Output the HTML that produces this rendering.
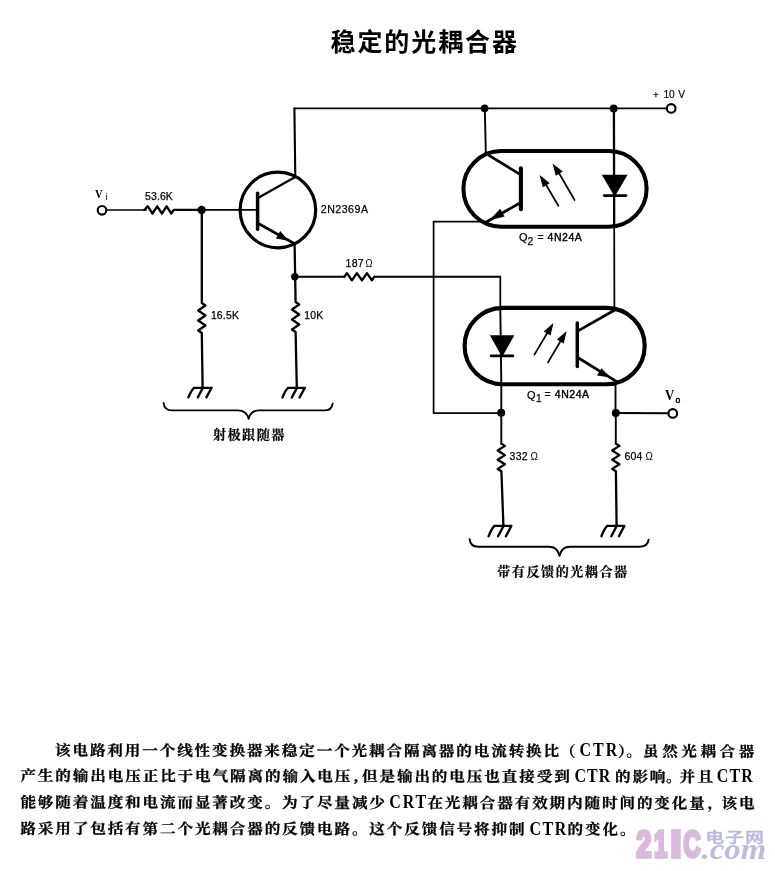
<!DOCTYPE html>
<html lang="zh-CN">
<head>
<meta charset="utf-8">
<title>稳定的光耦合器</title>
<style>
html,body{margin:0;padding:0;background:#fff;}
body{width:775px;height:871px;overflow:hidden;position:relative;font-family:"Liberation Sans","Noto Sans CJK SC",sans-serif;color:#000;}
svg{position:absolute;left:0;top:0;display:block;will-change:transform;}
.w{fill:none;stroke:#000;stroke-width:2.3;stroke-linecap:round;stroke-linejoin:round;}
.m{fill:none;stroke:#000;stroke-width:1.9;stroke-linecap:round;stroke-linejoin:round;}
.t{fill:none;stroke:#000;stroke-width:1.75;stroke-linecap:round;stroke-linejoin:round;}
.k{fill:none;stroke:#000;stroke-width:3.2;stroke-linecap:round;stroke-linejoin:round;}
.c{fill:none;stroke:#000;stroke-width:3.9;}
.e{fill:none;stroke:#000;stroke-width:2.7;stroke-linecap:round;stroke-linejoin:round;}
.d{fill:#000;stroke:none;}
.o{fill:#fff;stroke:#000;stroke-width:2.1;}
.lab{font-family:"Liberation Sans",sans-serif;font-size:11px;fill:#000;stroke:#000;stroke-width:0.25;letter-spacing:0.2px;}
.om{font-family:"Liberation Sans",sans-serif;font-size:10.5px;fill:#000;}
.vs{font-family:"Liberation Serif",serif;font-weight:700;fill:#000;}
.cn{font-family:"Liberation Serif","Noto Serif CJK SC",serif;font-weight:700;font-size:13.1px;fill:#000;stroke:#000;stroke-width:0.22;}
.title{font-family:"Liberation Sans","Noto Sans CJK SC",sans-serif;font-weight:700;font-size:25px;fill:#000;}
.p{font-family:"Liberation Serif","Noto Serif CJK SC",serif;font-weight:700;font-size:15.6px;fill:#000;stroke:#000;stroke-width:0.3;}
.pl{font-family:"Liberation Serif",serif;font-weight:700;font-size:17px;fill:#000;}
</style>
</head>
<body>
<svg width="775" height="871" viewBox="0 0 775 871">
<!-- title -->
<text class="title" x="330.5" y="51.4" textLength="186.5" lengthAdjust="spacing">稳定的光耦合器</text>

<!-- ===== emitter follower ===== -->
<path class="t" style="stroke-width:1.7" d="M106,210 H146"/>
<path class="w" d="M144.4,209.9 l3.4,-3.6 l4.7,7.2 l4.7,-7.2 l4.7,7.2 l4.7,-7.2 l4.7,7.2 l2.4,-3.6 H201"/>
<path class="t" style="stroke-width:1.6" d="M201,209.9 H257"/>
<circle class="o" cx="102" cy="210.3" r="4.3"/>
<circle class="d" cx="201.6" cy="210" r="4.2"/>
<path class="w" d="M201.8,210.2 V303 l3.6,2.5 l-7.2,5 l7.2,5 l-7.2,5 l7.2,5 l-7.2,5 l3.6,2.5 L202.6,387.6"/>
<path class="w" d="M294.6,244 L295.6,302 l3.6,2.5 l-7.2,5 l7.2,5 l-7.2,5 l7.2,5 l-7.2,5 l3.6,2.5 L296.8,387.6"/>
<circle class="d" cx="294.8" cy="276.7" r="3.7"/>
<!-- transistor -->
<circle cx="277.9" cy="210" r="37.8" fill="none" stroke="#000" stroke-width="3.2"/>
<path class="k" style="stroke-width:3.5" d="M257.6,193.3 V229.3"/>
<path class="w" style="stroke-width:2.2" d="M258.8,197.5 L295.2,177"/>
<path class="w" style="stroke-width:2.1" d="M295.3,177 L294.4,108.4"/>
<path class="t" style="stroke-width:1.65" d="M294.4,108.4 H667"/>
<path class="e" d="M258.8,223.8 L294.6,243.8"/>
<path class="d" d="M288.5,240.8 L276,238.6 L280.2,231 Z"/>
<!-- grounds -->
<path class="w" d="M193.8,387.8 H211.8 M194.2,388 q-2.5,1.5 -5.8,9.4 M202.8,388 l-5,9.4 M211.4,388 l-5,9.4"/>
<path class="w" d="M287.8,387.9 H305 M288.2,388.1 q-2.5,1.5 -5.8,9.4 M296.8,388.1 l-5,9.4 M304.6,388.1 l-5,9.4"/>
<!-- 187 ohm -->
<path class="m" d="M295,276.7 H344.6"/>
<path class="w" d="M344.4,276.7 l2.5,-3.6 l5,7.2 l5,-7.2 l5,7.2 l5,-7.2 l5,7.2 l2.5,-3.6"/>
<path class="m" d="M374.4,276.7 H500.3"/>
<path class="t" d="M500.3,276.7 V308"/>
<!-- brace -->
<path class="m" d="M163.6,403 q0.8,7.4 8.5,7.4 H238 q8.5,0 10.6,8.4 q2.1,-8.4 10.6,-8.4 H324 q7.8,0 8.6,-6.6"/>

<!-- ===== top rail ===== -->
<circle class="d" cx="484.6" cy="108.4" r="3.8"/>
<circle class="d" cx="613.7" cy="108.4" r="3.9"/>
<circle class="o" cx="671.2" cy="108.4" r="4.3"/>
<path class="m" d="M484.8,108 L485.8,152"/>
<path class="w" d="M613.9,108 L614.2,227"/>
<path class="t" d="M614.2,227 L614.4,308"/>

<!-- ===== Q2 ===== -->
<rect class="c" style="stroke-width:4.05" x="463.4" y="151" width="183.2" height="75.7" rx="37.85" ry="37.85"/>
<path class="k" style="stroke-width:4.1" d="M520.9,168.3 V209.3"/>
<path class="e" d="M485.6,153.3 L520,174.3 M520,203 L487.2,221.5"/>
<path class="d" d="M489.4,220.2 L504.6,216.4 L500.2,208.8 Z"/>
<path class="t" d="M558.4,205.8 L542,178 M574.6,200 L556,168"/>
<path class="d" d="M539.6,175 L549.8,183.2 L542.8,187.3 Z M552.6,163.4 L562.8,171.6 L555.8,175.7 Z"/>
<path class="d" d="M601.8,174.8 H627.6 L616,194.6 H613.4 Z"/>
<path class="w" style="stroke-width:2.6" d="M604.2,195.6 H626"/>
<!-- feedback wire -->
<path class="t" d="M487,221.7 H433.6 V413 H501"/>

<!-- ===== Q1 ===== -->
<rect class="c" style="stroke-width:4.15" x="464.6" y="307.9" width="180.1" height="76.3" rx="38.15" ry="38.15"/>
<path class="m" d="M500.3,308 L501.3,384"/>
<path class="m" d="M501.3,384 V412.7"/>
<path class="d" d="M489.8,335.2 H514.4 L503.4,354.8 H500.8 Z"/>
<path class="w" style="stroke-width:2.7" d="M491,355.8 H513"/>
<path class="t" d="M534.4,354.6 L551.5,326 M548,362.4 L564.8,334"/>
<path class="d" d="M553.4,323 L550.6,335.6 L543.8,331.5 Z M566.6,331 L563.8,343.6 L557,339.5 Z"/>
<path class="k" style="stroke-width:3.5" d="M577.3,323 V366.4"/>
<path class="e" d="M578.5,330.6 L614.8,310 M578.5,358 L616.3,381.3"/>
<path class="d" d="M610.5,377.6 L597,375.6 L601.4,368.2 Z"/>
<path class="m" d="M615.5,383 V413"/>
<circle class="d" cx="501.2" cy="412.8" r="4"/>
<circle class="d" cx="615.8" cy="413" r="4"/>
<path class="m" d="M615.5,413 L668,413.3"/>
<circle class="o" cx="672.8" cy="413.4" r="4.3"/>
<!-- resistors -->
<path class="m" d="M501.3,412.5 V443.6"/>
<path class="w" d="M501.3,443.6 l3.6,2.3 l-7.2,4.6 l7.2,4.6 l-7.2,4.6 l7.2,4.6 l-7.2,4.6 l3.7,2.3 L503.4,525.6"/>
<path class="m" d="M615.8,413 V443.6"/>
<path class="w" d="M615.8,443.6 l3.6,2.3 l-7.2,4.6 l7.2,4.6 l-7.2,4.6 l7.2,4.6 l-7.2,4.6 l3.7,2.3 L616.6,525.3"/>
<path class="w" d="M494.2,525.9 H511.4 M494.6,526.1 q-2.5,1.5 -6,10.2 M503.4,526.1 l-5.3,10.2 M511.2,526.1 l-5.3,10.2"/>
<path class="w" d="M607,525.9 H624.4 M607.4,526.1 q-2.5,1.5 -6,10.2 M616.6,526.1 l-5.3,10.2 M624.2,526.1 l-5.3,10.2"/>
<path class="m" d="M469.6,539.1 q0.8,7.6 8.5,7.6 H549 q8.5,0 10.5,9 q2,-9 10.5,-9 H640 q7.8,0 8.6,-7"/>

<!-- ===== labels ===== -->
<text class="vs" transform="translate(94.9,197.5) scale(0.82,1)" style="font-size:13px">V</text>
<text class="lab" x="105.4" y="199.5" style="font-size:8.8px;stroke-width:0.1">i</text>
<text class="lab" x="145" y="200.2" style="font-size:10.5px;letter-spacing:0.1px">53.6K</text>
<text class="lab" x="320.8" y="213.4" style="font-size:10.6px;letter-spacing:0.5px">2N2369A</text>
<text class="lab" x="345.6" y="267.4" style="font-size:10.5px">187</text>
<text class="om" x="365.6" y="267.4" textLength="7" lengthAdjust="spacingAndGlyphs">Ω</text>
<text class="lab" x="210.9" y="319" style="font-size:10.4px">16.5K</text>
<text class="lab" x="304.2" y="319" style="font-size:10.4px">10K</text>
<text class="lab" x="653.2" y="98.2" style="font-size:9px">+</text>
<text class="lab" x="663.6" y="97.8" style="font-size:10.2px;stroke-width:0.15;letter-spacing:-0.2px">10</text>
<text class="lab" x="678.2" y="97.8" style="font-size:10.2px;stroke-width:0.15">V</text>
<text class="lab" x="519" y="241">Q</text>
<text class="lab" x="527.4" y="244.8" style="font-size:10.3px">2</text>
<text class="lab" x="537.4" y="240.8" style="font-size:10.5px;letter-spacing:0.55px;stroke-width:0.4">= 4N24A</text>
<text class="lab" x="527" y="398.6">Q</text>
<text class="lab" x="536" y="402.4" style="font-size:10.3px">1</text>
<text class="lab" x="544.6" y="398.4" style="font-size:10.5px;letter-spacing:0.55px;stroke-width:0.4">= 4N24A</text>
<text class="lab" x="509.6" y="460" style="font-size:10.5px">332</text>
<text class="om" x="530.4" y="460" textLength="7.4" lengthAdjust="spacingAndGlyphs">Ω</text>
<text class="lab" x="624.5" y="460" style="font-size:10.5px">604</text>
<text class="om" x="645.4" y="460" textLength="7.4" lengthAdjust="spacingAndGlyphs">Ω</text>
<text class="vs" transform="translate(664.9,400.2) scale(0.92,1)" style="font-size:14px">V</text>
<text class="lab" x="675.6" y="403.3" style="font-size:8.5px;stroke-width:0.5">o</text>
<text class="cn" transform="translate(213,439) scale(1,0.96)" textLength="71.3" lengthAdjust="spacing">射极跟随器</text>
<text class="cn" transform="translate(497.2,575.8) scale(1,0.96)" textLength="130" lengthAdjust="spacing">带有反馈的光耦合器</text>

<!-- ===== paragraph ===== -->
<text class="p" transform="translate(55.00,755.56) rotate(0.09) scale(1,0.95)" style="letter-spacing:1.86px">该电路利用一个线性变换器来稳定一个光耦合隔离器的电流转换比</text>
<text class="p" transform="translate(560.00,756.38) rotate(0.09) scale(1,0.95)" style="letter-spacing:1.86px">（</text>
<text class="pl" transform="translate(579.60,756.41) scale(0.94,1.09)" textLength="40.00" lengthAdjust="spacing">CTR</text>
<text class="p" transform="translate(618.00,756.48) rotate(0.09) scale(1,0.95)" style="letter-spacing:1.86px">）</text>
<text class="p" transform="translate(626.30,756.49) rotate(0.09) scale(1,0.95)" style="letter-spacing:1.86px">。</text>
<text class="p" transform="translate(643.00,756.52) rotate(0.09) scale(1,0.95)" style="letter-spacing:3.55px">虽然光耦合器</text>
<text class="p" transform="translate(20.40,781.00) rotate(0.09) scale(1,0.95)" style="letter-spacing:1.88px">产生的输出电压正比于电气隔离的输入电压</text>
<text class="p" transform="translate(354.00,781.55) rotate(0.09) scale(1,0.95)" style="letter-spacing:1.88px">,</text>
<text class="p" transform="translate(362.00,781.56) rotate(0.09) scale(1,0.95)" style="letter-spacing:1.88px">但是输出的电压也直接受到</text>
<text class="pl" transform="translate(574.60,781.91) scale(0.94,1.09)" textLength="37.87" lengthAdjust="spacing">CTR</text>
<text class="p" transform="translate(615.00,781.97) rotate(0.09) scale(1,0.95)" style="letter-spacing:1.80px">的影响</text>
<text class="p" transform="translate(666.00,782.05) rotate(0.09) scale(1,0.95)" style="letter-spacing:1.80px">。</text>
<text class="p" transform="translate(679.50,782.08) rotate(0.09) scale(1,0.95)" style="letter-spacing:2.30px">并且</text>
<text class="pl" transform="translate(716.80,782.14) scale(0.94,1.09)" textLength="38.30" lengthAdjust="spacing">CTR</text>
<text class="p" transform="translate(20.40,807.40) rotate(0.09) scale(1,0.95)" style="letter-spacing:1.86px">能够随着温度和电流而显著改变。为了尽量减少</text>
<text class="pl" transform="translate(389.20,808.00) scale(0.94,1.09)" textLength="39.36" lengthAdjust="spacing">CRT</text>
<text class="p" transform="translate(427.40,808.07) rotate(0.09) scale(1,0.95)" style="letter-spacing:1.87px">在光耦合器有效期内随时间的变化量</text>
<text class="p" transform="translate(707.50,808.52) rotate(0.09) scale(1,0.95)" style="letter-spacing:1.87px">，</text>
<text class="p" transform="translate(721.60,808.55) rotate(0.09) scale(1,0.95)" style="letter-spacing:1.70px">该电</text>
<text class="p" transform="translate(20.40,833.70) rotate(0.09) scale(1,0.95)" style="letter-spacing:1.86px">路采用了包括有第二个光耦合器的反馈电路。这个反馈信号将抑制</text>
<text class="pl" transform="translate(529.60,834.53) scale(0.94,1.09)" textLength="38.94" lengthAdjust="spacing">CTR</text>
<text class="p" transform="translate(567.60,834.59) rotate(0.09) scale(1,0.95)" style="letter-spacing:1.85px">的变化。</text>

<!-- ===== watermark ===== -->
<g style="font-family:'Liberation Sans',sans-serif;font-weight:700;font-size:36.2px;fill:#d9badd;stroke:#d9badd;stroke-width:3.6;stroke-linejoin:miter">
<text transform="translate(636.3,857.3) scale(0.76,1)">2</text>
<text transform="translate(654,857.3) scale(0.66,1)">1</text>
<text transform="translate(670.4,857.3) scale(1.08,1)">I</text>
<text transform="translate(683.6,857.3) scale(0.655,1)">C</text>
</g>
<g style="font-family:'Liberation Sans','Noto Sans CJK SC',sans-serif;font-weight:500;font-size:14.5px;fill:#babbe1;stroke:#babbe1;stroke-width:0.5">
<text transform="translate(705.6,842.2) scale(1.28,0.98)" style="letter-spacing:1px">电子网</text>
</g>
<g style="font-family:'Liberation Serif',serif;font-weight:700;font-style:italic;font-size:28px;fill:#babbe1">
<text transform="translate(701.6,858.8) scale(1.17,1.04)">.com</text>
</g>
</svg>
</body>
</html>
